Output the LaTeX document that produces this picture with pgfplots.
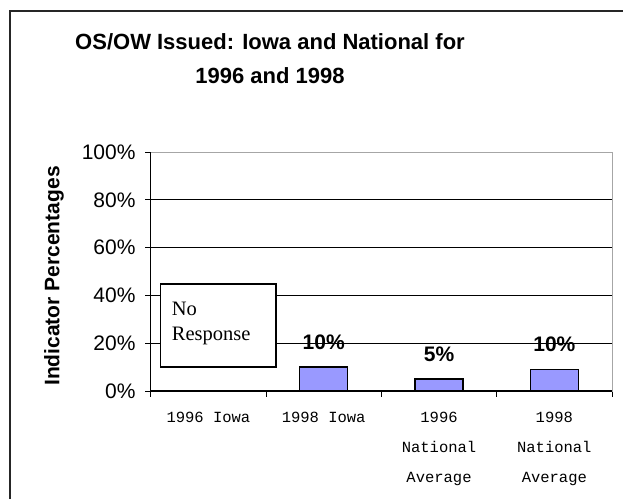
\documentclass[border=0pt]{standalone}
\usepackage{fontspec}
\setmainfont{Liberation Sans}
\newfontfamily\timesf{Liberation Serif}
\newfontfamily\courf{Liberation Mono}
\usepackage{pgfplots}
\pgfplotsset{compat=1.18}
\definecolor{barblue}{HTML}{9999FF}
\begin{document}
\begin{tikzpicture}[x=1pt,y=1pt]
\path[use as bounding box] (0,0) rectangle (623,499);
\draw[line width=1.6pt, black!85] (10,0) -- (10,488) -- (623,488);
\node[font=\fontsize{22}{34}\selectfont\bfseries, align=center] at (270,440) {OS/OW Issued: Iowa and National for\\1996 and 1998};
\node[rotate=90, font=\fontsize{21}{25}\selectfont\bfseries] at (54,223) {Indicator Percentages};
\begin{axis}[
  at={(150.7pt,108pt)}, anchor=south west, scale only axis,
  width=461.3pt, height=239pt,
  xmin=-0.5, xmax=3.5, ymin=0, ymax=100,
  ytick={0,20,...,100},
  yticklabel={\pgfmathprintnumber{\tick}\%},
  yticklabel style={font=\fontsize{21}{21}\selectfont, xshift=-6pt},
  /pgf/number format/assume math mode=true,
  xtick={0,1,2,3},
  xticklabels={1996 Iowa, 1998 Iowa, {1996\\National\\Average}, {1998\\National\\Average}},
  xticklabel style={font=\courf\fontsize{15.5}{30}\selectfont, align=center, yshift=-12pt},
  minor xtick={-0.5,0.5,1.5,2.5,3.5},
  major x tick style={draw=none},
  tick pos=left,
  tick align=outside,
  major tick length=5.7pt, minor tick length=5.7pt,
  tick style={black, line width=1pt},
  ymajorgrids, grid style={black, line width=0.8pt},
  axis line style={gray!70, line width=1pt},
  clip=false,
]
\addplot[ybar, bar width=48pt, fill=barblue, draw=black, line width=1.4pt,
  point meta=explicit,
  nodes near coords={\pgfmathprintnumber{\pgfplotspointmeta}\%},
  every node near coord/.style={font=\fontsize{21}{21}\selectfont\bfseries, anchor=center, yshift=25pt}]
  coordinates {(1,10) [10] (2,5) [5] (3,9) [10]};
\draw[black, line width=1.3pt] (rel axis cs:0,1) -- (rel axis cs:0,0) -- (rel axis cs:1,0);
\end{axis}
\draw[line width=1.3pt, fill=white] (160.7,132) rectangle (276,215);
\node[font=\timesf\fontsize{20.5}{25}\selectfont, anchor=base west, inner sep=0pt] at (171.7,184) {No};
\node[font=\timesf\fontsize{20.5}{25}\selectfont, anchor=base west, inner sep=0pt] at (171.7,159) {Response};
\end{tikzpicture}
\end{document}
